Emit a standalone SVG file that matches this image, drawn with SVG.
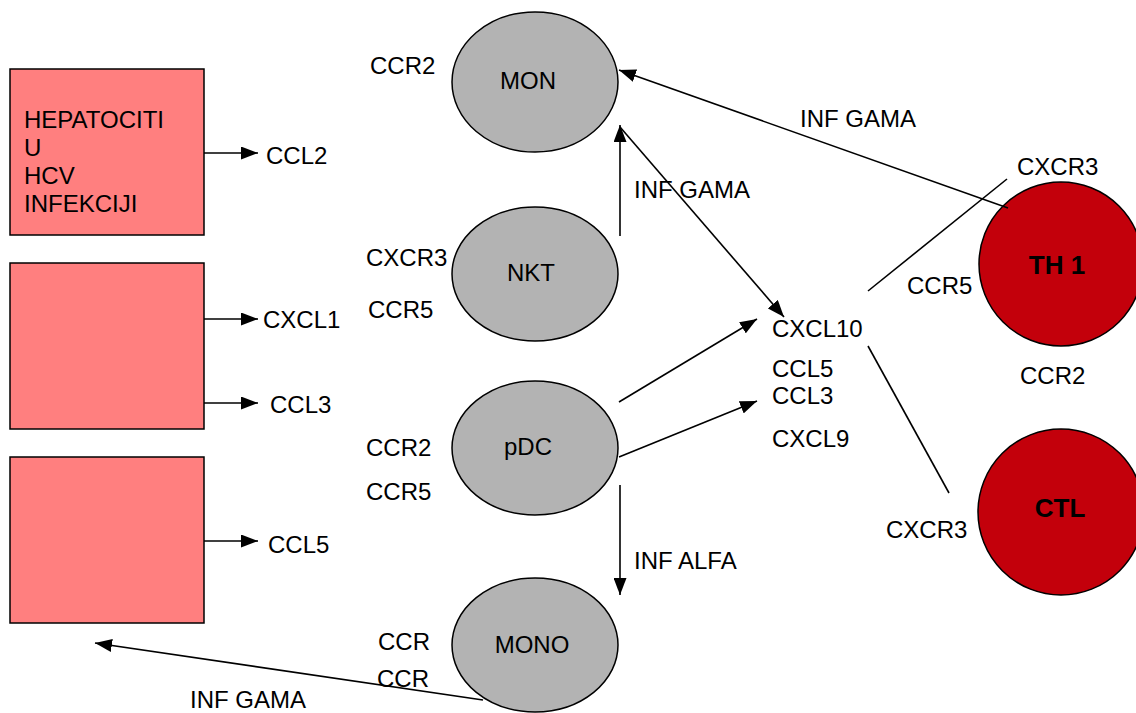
<svg xmlns="http://www.w3.org/2000/svg" width="1136" height="713" viewBox="0 0 1136 713">
<style>
text{font-family:"Liberation Sans",Arial,sans-serif;font-size:24px;fill:#000}
.b{font-weight:bold;font-size:26px}
.box{fill:#FF7F7F;stroke:#000;stroke-width:1.5}
.cell{fill:#B3B3B3;stroke:#000;stroke-width:1.5}
.red{fill:#C3000B;stroke:#000;stroke-width:1.5}
.ln{stroke:#000;stroke-width:1.6;fill:none}
</style>
<defs>
<marker id="ah" markerWidth="17" markerHeight="13" refX="17" refY="6.5" orient="auto" markerUnits="userSpaceOnUse">
<path d="M0,0 L17,6.5 L0,13 Z" fill="#000"/>
</marker>
</defs>
<rect width="1136" height="713" fill="#fff"/>
<g id="hep1"><rect class="box" x="10" y="69" width="194" height="166"/>
<text x="24" y="128">HEPATOCITI</text><text x="24" y="156">U</text><text x="24" y="184">HCV</text><text x="24" y="212">INFEKCIJI</text></g>
<g id="hep2"><rect class="box" x="10" y="263" width="194" height="166"/></g>
<g id="hep3"><rect class="box" x="10" y="457" width="194" height="166"/></g>
<g id="mon"><ellipse class="cell" cx="535" cy="82" rx="83" ry="70"/><text x="528" y="89" text-anchor="middle">MON</text></g>
<g id="nkt"><ellipse class="cell" cx="535" cy="274" rx="83" ry="67"/><text x="531" y="281" text-anchor="middle">NKT</text></g>
<g id="pdc"><ellipse class="cell" cx="535" cy="448" rx="83" ry="67"/><text x="528" y="455" text-anchor="middle">pDC</text></g>
<g id="mono"><ellipse class="cell" cx="535" cy="645" rx="83" ry="67"/><text x="532" y="653" text-anchor="middle">MONO</text></g>
<g id="th1"><circle class="red" cx="1061" cy="264" r="82"/><text class="b" x="1057" y="274" text-anchor="middle">TH 1</text></g>
<g id="ctl"><circle class="red" cx="1061" cy="512" r="83"/><text class="b" x="1060" y="517" text-anchor="middle">CTL</text></g>
<g id="labels">
<text x="370" y="74">CCR2</text>
<text x="366" y="266">CXCR3</text>
<text x="368" y="318">CCR5</text>
<text x="366" y="456">CCR2</text>
<text x="366" y="500">CCR5</text>
<text x="378" y="650">CCR</text>
<text x="377" y="687">CCR</text>
<text x="266" y="164">CCL2</text>
<text x="263" y="328">CXCL1</text>
<text x="270" y="413">CCL3</text>
<text x="268" y="553">CCL5</text>
<text x="800" y="127">INF GAMA</text>
<text x="634" y="198">INF GAMA</text>
<text x="634" y="569">INF ALFA</text>
<text x="190" y="708">INF GAMA</text>
<text x="772" y="337">CXCL10</text>
<text x="772" y="377">CCL5</text>
<text x="772" y="404">CCL3</text>
<text x="772" y="447">CXCL9</text>
<text x="1017" y="175">CXCR3</text>
<text x="907" y="294">CCR5</text>
<text x="1020" y="384">CCR2</text>
<text x="886" y="538">CXCR3</text>
</g>
<g id="connectors">
<line class="ln" x1="204" y1="153" x2="258" y2="153" marker-end="url(#ah)"/>
<line class="ln" x1="204" y1="319" x2="258" y2="319" marker-end="url(#ah)"/>
<line class="ln" x1="204" y1="403" x2="258" y2="403" marker-end="url(#ah)"/>
<line class="ln" x1="204" y1="541" x2="258" y2="541" marker-end="url(#ah)"/>
<line class="ln" x1="1008" y1="208" x2="619" y2="70" marker-end="url(#ah)"/>
<line class="ln" x1="620" y1="236" x2="620" y2="125" marker-end="url(#ah)"/>
<line class="ln" x1="620" y1="127" x2="784" y2="317" marker-end="url(#ah)"/>
<line class="ln" x1="619" y1="402" x2="757" y2="319" marker-end="url(#ah)"/>
<line class="ln" x1="619" y1="457" x2="757" y2="401" marker-end="url(#ah)"/>
<line class="ln" x1="620" y1="485" x2="620" y2="595" marker-end="url(#ah)"/>
<line class="ln" x1="483" y1="700" x2="95" y2="643" marker-end="url(#ah)"/>
<line class="ln" x1="868" y1="291" x2="1007" y2="179"/>
<line class="ln" x1="868" y1="346" x2="949" y2="493"/>
</g>
</svg>
